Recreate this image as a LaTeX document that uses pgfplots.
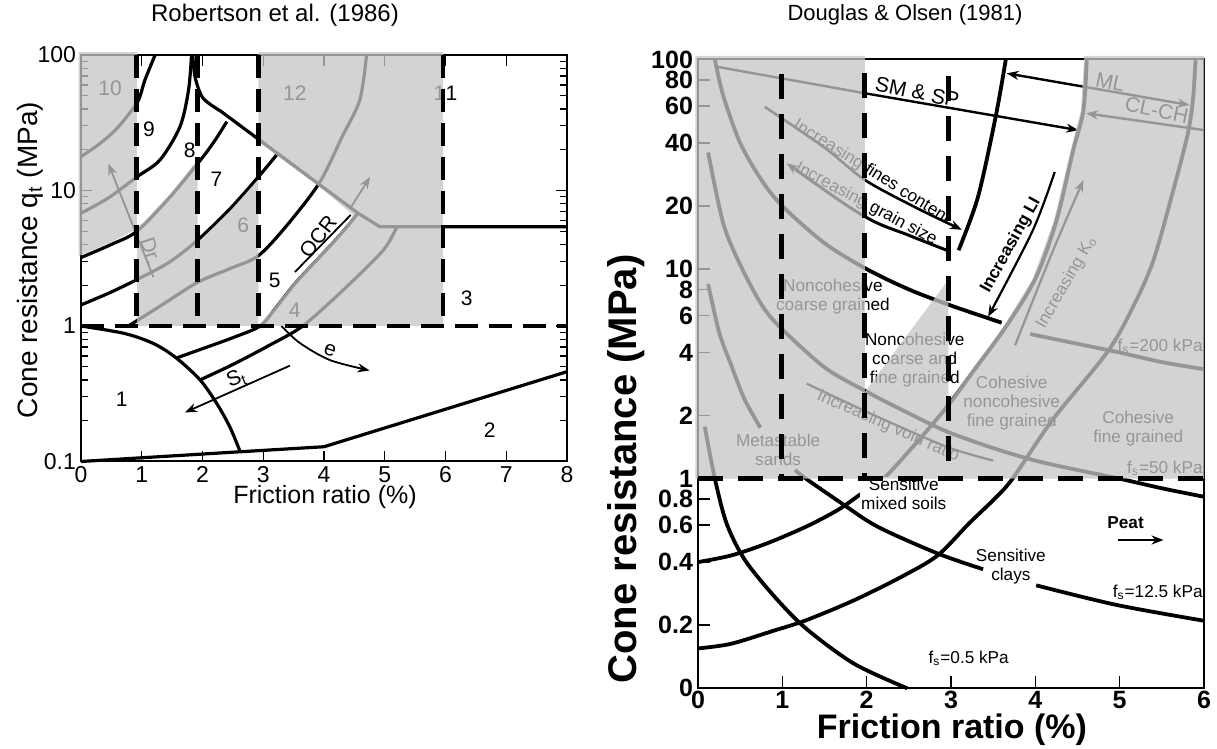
\documentclass[border=0pt]{standalone}
\usepackage{pgfplots}
\pgfplotsset{compat=1.18}
\usepackage{fontspec}
\setmainfont{Liberation Sans}
\usetikzlibrary{arrows.meta}
\definecolor{ovl}{RGB}{197,197,197}
\pgfplotsset{
  ovl/.style={draw=none, fill=ovl, fill opacity=0.76, forget plot},
  bk/.style={black, line width=1.6pt, forget plot, mark=none},
  bkt/.style={black, line width=1.9pt, forget plot, mark=none},
  thin/.style={black, line width=0.9pt, forget plot, mark=none},
  dshL/.style={black, line width=2.4pt, dash pattern=on 11.5pt off 5.5pt, forget plot, mark=none},
  dshR/.style={black, line width=2.5pt, dash pattern=on 12.5pt off 7.5pt, forget plot, mark=none},
}
\tikzset{
  lnum/.style={font=\fontsize{10.5}{12}\selectfont, inner sep=0pt},
  rtx/.style={font=\fontsize{8.6}{9.6}\selectfont, inner sep=0.5pt, align=center},
  arr/.style={-{Stealth[length=6pt,width=4.5pt]}},
}
\begin{document}
\begin{tikzpicture}
\useasboundingbox (0,0) rectangle (608.5pt,374.5pt);
% ---------------- LEFT: Robertson et al. (1986)
\begin{axis}[
  at={(40.5pt,143.75pt)}, anchor=south west, scale only axis,
  width=243pt, height=203.25pt,
  xmin=0, xmax=8, ymin=0.1, ymax=100, ymode=log, clip=false,
  xtick={0,1,...,8}, xticklabels={0,1,2,3,4,5,6,7,8},
  ytick={0.1,1,10,100}, yticklabels={0.1,1,10,100},
  minor ytick={0.2,0.3,0.4,0.5,0.6,0.7,0.8,0.9,2,3,4,5,6,7,8,9,20,30,40,50,60,70,80,90},
  tick align=inside, xtick pos=both, ytick pos=both,
  major tick length=5.5pt, minor tick length=3.5pt,
  axis line style={line width=1pt},
  every tick/.style={black, line width=0.6pt},
  ticklabel style={font=\fontsize{11.5}{12}\selectfont},
  yticklabel style={xshift=1pt},
  xticklabel style={yshift=1pt},
]
% boundaries
\addplot[bk, smooth] coordinates {(0,17.8)(0.3,22)(0.6,29)(0.93,45)(1.05,65)(1.22,100)};
\addplot[bk, smooth] coordinates {(0,6.8)(0.45,8.8)(0.92,12.6)(1.3,16.8)(1.63,29.6)(1.77,55)(1.82,100)};
\addplot[bk, smooth] coordinates {(0,3.2)(0.5,4.0)(0.92,5.0)(1.47,9.0)(1.99,17.3)(2.21,23.6)(2.40,32.2)};
\addplot[bk, smooth] coordinates {(0,1.43)(0.46,1.75)(0.92,2.2)(1.45,2.95)(1.92,4.3)(2.45,7.3)(2.92,12.6)(3.22,18.3)};
\addplot[bk, smooth] coordinates {(0.78,1.0)(1.3,1.4)(1.92,2.1)(2.45,2.65)(2.92,3.3)(3.4,5.6)(3.93,11.5)(4.3,25)(4.59,46.6)(4.70,100)};
\addplot[bk, smooth] coordinates {(1.57,0.58)(2.0,0.68)(2.5,0.82)(2.95,1.0)(3.2,1.35)(3.52,2.05)(3.8,2.8)(4.1,3.9)(4.35,5.2)(4.56,6.8)};
\addplot[bk, smooth] coordinates {(1.96,0.40)(2.5,0.52)(3.1,0.72)(3.65,1.0)(4.32,1.85)(4.97,3.6)(5.2,5.4)};
\addplot[bk, smooth] coordinates {(1.84,100)(1.88,68)(2.01,48)(2.3,38.5)};
\addplot[bk] coordinates {(2.3,38.5)(4.56,6.8)(4.92,5.4)(8,5.4)};
\addplot[bk, smooth] coordinates {(0,1)(0.72,0.88)(1.2,0.74)(1.57,0.58)(1.96,0.40)(2.23,0.27)(2.45,0.18)(2.62,0.118)};
\addplot[bk] coordinates {(0,0.1)(2.62,0.118)(4.0,0.1285)(8,0.46)};
% arrows
\addplot[thin, smooth, arr] coordinates {(3.3,1.0)(3.6,0.75)(4.1,0.56)(4.75,0.47)};
\addplot[thin, arr] coordinates {(3.44,0.51)(1.71,0.23)};
\addplot[thin] coordinates {(3.52,2.5)(4.44,6.6)};
\addplot[thin, arr] coordinates {(1.19,2.3)(0.45,15.8)};
\addplot[thin, arr] coordinates {(4.45,7.6)(4.76,12.6)};
% labels
\node[lnum] at (axis cs:0.48,56.8) {10};
\node[lnum] at (axis cs:1.12,28.2) {9};
\node[lnum] at (axis cs:1.79,19.9) {8};
\node[lnum] at (axis cs:2.23,12.0) {7};
\node[lnum] at (axis cs:3.52,52.2) {12};
\node[lnum] at (axis cs:2.67,5.5) {6};
\node[lnum] at (axis cs:3.19,2.18) {5};
\node[lnum] at (axis cs:3.52,1.30) {4};
\node[lnum] at (axis cs:0.67,0.29) {1};
\node[lnum] at (axis cs:6.35,1.59) {3};
\node[lnum] at (axis cs:6.73,0.17) {2};
\node[lnum] at (axis cs:5.9,52) {1};
\node[lnum] at (axis cs:6.1,52) {1};
\node[lnum, rotate=-72] at (axis cs:1.15,3.6) {Dr.};
\node[lnum, rotate=52] at (axis cs:3.9,4.6) {OCR};
\node[lnum, rotate=22] at (axis cs:2.56,0.41) {S\textsubscript{t}};
\node[lnum, rotate=-20] at (axis cs:4.1,0.66) {e};
% grey overlay
\addplot[ovl] coordinates {(-0.04,105)(0.92,105)(0.92,5.2)(0.5,4.16)(0,3.33)(-0.04,3.3)} --cycle;
\addplot[ovl] coordinates {(0.92,1)(0.92,5.2)(1.47,9.4)(1.92,16.9)(1.92,1)} --cycle;
\addplot[ovl] coordinates {(1.92,1)(1.92,4.13)(2.45,7.0)(2.92,12.1)(2.92,1)} --cycle;
\addplot[ovl] coordinates {(2.92,1)(2.95,1.04)(3.2,1.4)(3.52,2.13)(3.8,2.9)(4.1,4.05)(4.35,5.4)(4.48,6.6)(3.93,10.6)(2.98,21.9)(2.92,22.9)(2.92,105)(5.96,105)(5.96,1)} --cycle;
% dashed frame
\addplot[dshL] coordinates {(0.92,100)(0.92,1)};
\addplot[dshL] coordinates {(1.92,100)(1.92,1)};
\addplot[dshL] coordinates {(2.92,100)(2.92,1)};
\addplot[dshL] coordinates {(5.96,100)(5.96,1)};
\addplot[dshL] coordinates {(0,1)(8,1)};
\end{axis}
\node[font=\fontsize{12}{14}\selectfont] at (137.5pt,367pt) {Robertson et al. (1986)};
\node[font=\fontsize{14}{16}\selectfont, rotate=90] at (15pt,244.5pt) {Cone resistance q\textsubscript{t} (MPa)};
\node[font=\fontsize{12.5}{14}\selectfont] at (162.5pt,126pt) {Friction ratio (\%)};

% ---------------- RIGHT: Douglas & Olsen (1981)
\begin{axis}[
  at={(349pt,30.35pt)}, anchor=south west, scale only axis,
  width=253pt, height=314.4pt,
  xmin=0, xmax=6, ymin=0.1, ymax=100, ymode=log, clip=false,
  xtick={0,1,...,6}, xticklabels={0,1,2,3,4,5,6},
  ytick={0.1,0.2,0.4,0.6,0.8,1,2,4,6,8,10,20,40,60,80,100},
  yticklabels={0,0.2,0.4,0.6,0.8,1,2,4,6,8,10,20,40,60,80,100},
  yminorticks=false,
  tick align=inside, xtick pos=bottom, ytick pos=left,
  major tick length=6pt,
  axis line style={line width=1pt},
  every tick/.style={black, line width=0.8pt},
  ticklabel style={font=\bfseries\fontsize{12.5}{13}\selectfont},
  yticklabel style={xshift=1pt},
  xticklabel style={yshift=2pt},
]
% fs contours and boundaries
\addplot[bkt, smooth] coordinates {(0.2,100)(0.3,67)(0.5,40)(0.75,26.7)(1,20)(1.5,13.3)(2,10)(2.5,8)(3,6.7)(3.6,5.55)};
\addplot[bkt, smooth] coordinates {(3.94,4.9)(4.5,4.4)(5,4)(5.5,3.6)(6,3.33)};
\addplot[bkt, smooth] coordinates {(0.12,36)(0.3,16.5)(0.5,10.5)(0.75,6.8)(0.97,5.3)(1.5,3.4)(2,2.6)(2.5,2.05)(2.95,1.68)(3.5,1.4)(4,1.22)(4.5,1.1)(5,1.0)(5.5,0.9)(6,0.82)};
\addplot[bkt, smooth] coordinates {(0.12,8.5)(0.25,5)(0.38,3.6)(0.55,2.4)(0.74,1.75)};
\addplot[bkt, smooth] coordinates {(1.15,1.1)(1.28,1.0)(1.71,0.76)(2.13,0.59)(2.84,0.44)(3.38,0.37)};
\addplot[bkt, smooth] coordinates {(4.01,0.31)(4.96,0.25)(6,0.21)};
\addplot[bkt, smooth] coordinates {(0.08,1.77)(0.2,1.0)(0.34,0.61)(0.555,0.41)(0.91,0.273)(1.28,0.193)(1.85,0.131)(2.48,0.1)};
\addplot[bkt, smooth] coordinates {(0,0.155)(0.39,0.163)(0.91,0.189)(1.28,0.211)(1.85,0.263)(2.41,0.34)(2.84,0.43)(3.21,0.61)(3.50,0.79)(3.73,1.0)(4.2,1.9)(4.85,4.0)(5.15,6.5)(5.4,11)(5.65,25)(5.81,44.6)(5.87,65)(5.9,100)};
\addplot[bkt, smooth] coordinates {(0,0.40)(0.39,0.43)(0.81,0.49)(1.28,0.59)(1.66,0.71)(1.94,0.85)(2.2,1.0)(2.6,1.5)(2.97,2.25)(3.3,3.4)(3.65,5.3)(4.0,9.0)(4.25,17)(4.45,37)(4.57,57)(4.61,100)};
\addplot[bkt, smooth] coordinates {(3.65,100)(3.53,53.4)(3.32,22.1)(3.09,12.3)};
% arrows
\addplot[thin, line width=1.2pt, arr] coordinates {(0.22,92.4)(1.98,69)(4.51,46)};
\addplot[thin, line width=1.2pt, {Stealth[length=6pt,width=4.5pt]}-{Stealth[length=6pt,width=4.5pt]}] coordinates {(5.83,60.6)(3.66,85.9)};
\addplot[thin, line width=1.2pt, {Stealth[length=6pt,width=4.5pt]}-] coordinates {(4.6,55.4)(5.99,46.1)};
\addplot[thin, line width=1.3pt, smooth, arr] coordinates {(0.79,59.5)(1.5,38)(1.98,26.6)(2.6,19.5)(3.13,15.4)};
\addplot[thin, line width=1.5pt, smooth, {Stealth[length=6pt,width=4.5pt]}-] coordinates {(1.05,32)(1.98,17.8)(2.5,14.5)(2.95,12.3)};
\addplot[thin, line width=1.1pt, smooth, arr] coordinates {(4.23,29.1)(3.97,15.3)(3.44,5.92)};
\addplot[thin, line width=1.1pt, smooth, arr] coordinates {(3.76,4.33)(4.2,12)(4.57,26.6)};
\addplot[thin, line width=1.1pt, smooth] coordinates {(1.29,2.84)(2.1,2.0)(2.95,1.42)(3.5,1.22)};
\addplot[thin, line width=1.1pt, arr] coordinates {(4.98,0.51)(5.52,0.51)};
% texts
\node[rtx, font=\fontsize{10.5}{12}\selectfont, rotate=-12] at (axis cs:2.6,70) {SM \& SP};
\node[rtx, anchor=south, rotate=-32] at (axis cs:2.0,26.6) {Increasing fines content};
\node[rtx, anchor=south, rotate=-28] at (axis cs:1.94,18.6) {Increasing grain size};
\node[rtx, font=\bfseries\fontsize{8.6}{9.6}\selectfont, rotate=61] at (axis cs:3.71,13.0) {Increasing LI};
\node[rtx, rotate=60] at (axis cs:4.37,8.6) {Increasing K\textsubscript{o}};
\node[rtx, font=\fontsize{10.5}{12}\selectfont, rotate=-12] at (axis cs:4.89,78) {ML};
\node[rtx, font=\fontsize{10.5}{12}\selectfont, rotate=-12] at (axis cs:5.44,57.4) {CL-CH};
\node[rtx] at (axis cs:1.6,7.4) {Noncohesive\\coarse grained};
\node[rtx] at (axis cs:2.57,3.68) {Noncohesive\\coarse and\\fine grained};
\node[rtx] at (axis cs:3.72,2.29) {Cohesive\\noncohesive\\fine grained};
\node[rtx] at (axis cs:5.22,1.74) {Cohesive\\fine grained};
\node[rtx] at (axis cs:0.95,1.37) {Metastable\\sands};
\node[rtx, anchor=north, rotate=-24] at (axis cs:2.3,1.95) {Increasing void ratio};
\node[rtx, anchor=east] at (axis cs:6.0,4.3) {f\textsubscript{s}=200 kPa};
\node[rtx, anchor=east] at (axis cs:6.0,1.12) {f\textsubscript{s}=50 kPa};
\node[rtx, fill=white] at (axis cs:2.44,0.85) {Sensitive\\mixed soils};
\node[rtx] at (axis cs:3.71,0.38) {Sensitive\\clays};
\node[rtx, font=\bfseries\fontsize{8.6}{9.6}\selectfont] at (axis cs:5.07,0.62) {Peat};
\node[rtx, anchor=east] at (axis cs:6.0,0.288) {f\textsubscript{s}=12.5 kPa};
\node[rtx] at (axis cs:3.21,0.139) {f\textsubscript{s}=0.5 kPa};
% grey overlay
\addplot[ovl] coordinates {(-0.03,1)(-0.03,104)(1.98,104)(1.98,2.6)(2.97,8.9)(2.97,2.3)(3.27,3.4)(3.62,5.3)(3.97,9.0)(4.22,17)(4.42,37)(4.54,57)(4.58,104)(6,104)(6,1)} --cycle;
% dashed
\addplot[dshR] coordinates {(0.99,85)(0.99,1)};
\addplot[dshR] coordinates {(1.98,86)(1.98,1)};
\addplot[dshR] coordinates {(2.97,83)(2.97,1)};
\addplot[dshR] coordinates {(0,1)(6,1)};
\end{axis}
\node[font=\fontsize{11}{13}\selectfont] at (452.5pt,367pt) {Douglas \& Olsen (1981)};
\node[font=\bfseries\fontsize{20}{22}\selectfont, rotate=90] at (313pt,140pt) {Cone resistance (MPa)};
\node[font=\bfseries\fontsize{17}{19}\selectfont] at (476pt,9.5pt) {Friction ratio (\%)};
\end{tikzpicture}
\end{document}
